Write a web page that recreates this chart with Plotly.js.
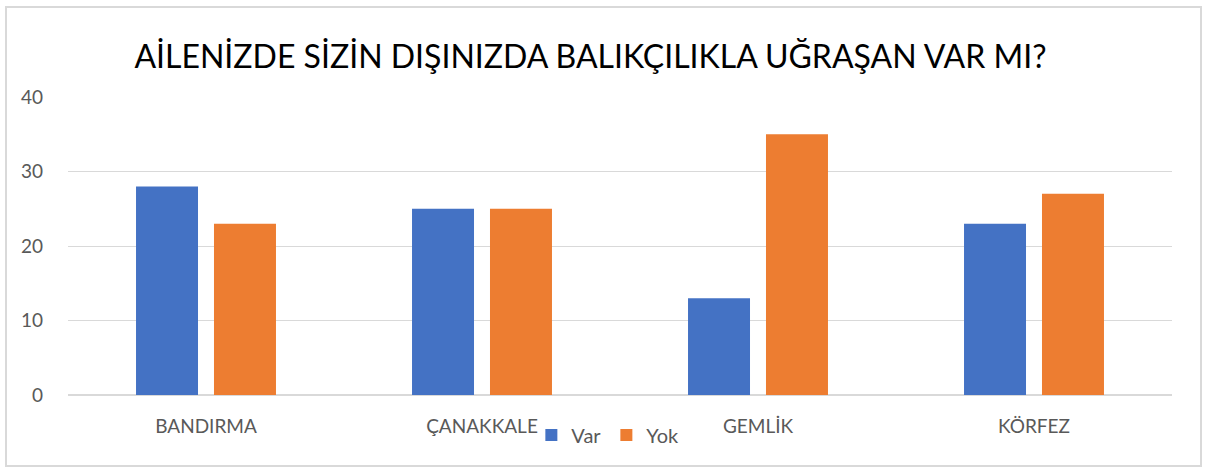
<!DOCTYPE html>
<html><head><meta charset="utf-8">
<script src="https://cdn.plot.ly/plotly-3.0.1.min.js"></script>
<style>
body{margin:0;background:#fff;}
#chart{width:1205px;height:469px;}
#frame{position:absolute;left:5px;top:6px;width:1193px;height:457px;border:2px solid #d9d9d9;pointer-events:none;}
</style></head>
<body>
<div id="chart"></div>
<div id="frame"></div>
<script>
const categories = ["BANDIRMA", "ÇANAKKALE", "GEMLİK", "KÖRFEZ"];
const varValues = [28, 25, 13, 23];
const yokValues = [23, 25, 35, 27];
const yTicks = [0, 10, 20, 30, 40];

const font = "Lato, 'Open Sans', sans-serif";
const data = [
  {type:'bar', name:'Var', x:categories, y:varValues, marker:{color:'#4472c4'}, hoverinfo:'y'},
  {type:'bar', name:'Yok', x:categories, y:yokValues, marker:{color:'#ed7d31'}, hoverinfo:'y'}
];
const layout = {
  width:1205, height:469,
  margin:{l:68, r:33, t:97, b:74},
  paper_bgcolor:'#fff', plot_bgcolor:'#fff',
  barmode:'group', bargap:0.435, bargroupgap:0.205,
  title:{text:'AİLENİZDE SİZİN DIŞINIZDA BALIKÇILIKLA UĞRAŞAN VAR MI?', font:{family:font, size:32, color:'#000'}, x:0.49, xref:'container', y:0.878, yref:'container', yanchor:'middle'},
  font:{family:font, color:'#595959', size:16},
  xaxis:{type:'category', showgrid:false, showline:false, zeroline:false, ticks:'', tickfont:{size:19, color:'#595959'}, ticklabelstandoff:18},
  yaxis:{range:[0,40], tickvals:yTicks, ticktext:yTicks.map(String), showgrid:true, gridcolor:'#d9d9d9', gridwidth:1, zeroline:true, zerolinecolor:'#d9d9d9', zerolinewidth:2, showline:false, ticks:'', tickfont:{size:19, color:'#595959'}, ticklabelstandoff:24, fixedrange:true},
  showlegend:true,
  legend:{orientation:'h', x:0.489, xanchor:'center', y:-0.134, yanchor:'middle', font:{size:20, color:'#595959'}, itemwidth:30, tracegroupgap:0, bgcolor:'rgba(0,0,0,0)'}
};
Plotly.newPlot('chart', data, layout, {displayModeBar:false, staticPlot:true});
</script>
</body></html>
